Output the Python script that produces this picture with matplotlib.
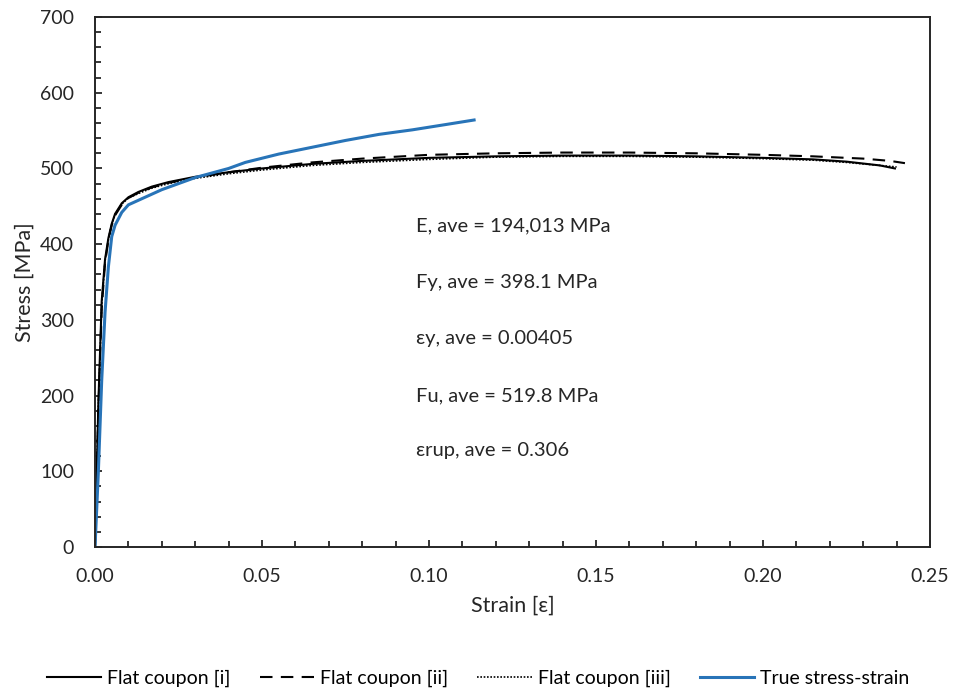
import numpy as np
import matplotlib.pyplot as plt
from matplotlib.ticker import MultipleLocator

plt.rcParams['font.family'] = ['Lato', 'DejaVu Sans']

# flat coupon [i]
strain_i = [0, 0.001, 0.002, 0.003, 0.004, 0.005, 0.006, 0.008, 0.010, 0.013, 0.017,
            0.022, 0.03, 0.04, 0.05, 0.065, 0.08, 0.10, 0.12, 0.14, 0.16, 0.18, 0.20,
            0.215, 0.225, 0.235, 0.2395]
stress_i = [0, 190, 325, 380, 408, 427, 440, 454, 462, 469, 476,
            482, 489, 495, 500, 506, 510, 514, 516, 517, 517, 516, 514,
            512, 509, 504, 500]

# flat coupon [ii]
strain_ii = [0, 0.001, 0.002, 0.003, 0.004, 0.005, 0.006, 0.008, 0.010, 0.013, 0.017,
             0.022, 0.03, 0.04, 0.05, 0.065, 0.08, 0.10, 0.12, 0.14, 0.16, 0.18, 0.20,
             0.215, 0.23, 0.238, 0.2425]
stress_ii = [0, 180, 315, 375, 405, 425, 438, 452, 461, 468, 475,
             481, 488, 495, 501, 508, 513, 518, 520, 521, 521, 520, 518,
             516, 513, 510, 507]

# flat coupon [iii]
strain_iii = [0, 0.001, 0.002, 0.003, 0.004, 0.005, 0.006, 0.008, 0.010, 0.013, 0.017,
              0.022, 0.03, 0.04, 0.05, 0.065, 0.08, 0.10, 0.12, 0.14, 0.16, 0.18, 0.20,
              0.215, 0.225, 0.235, 0.240]
stress_iii = [0, 185, 320, 378, 406, 426, 439, 453, 461, 467, 474,
              480, 487, 493, 498, 504, 508, 512, 515, 516, 516, 515, 513,
              511, 508, 504, 502]

# true stress-strain
strain_t = [0, 0.001, 0.002, 0.003, 0.004, 0.005, 0.006, 0.008, 0.010, 0.015, 0.02,
            0.03, 0.04, 0.045, 0.055, 0.065, 0.075, 0.085, 0.095, 0.105, 0.1135]
stress_t = [0, 100, 220, 310, 370, 410, 425, 442, 452, 462, 472,
            488, 500, 508, 519, 528, 537, 545, 551, 558, 564]

labels = ['Flat coupon [i]', 'Flat coupon [ii]', 'Flat coupon [iii]', 'True stress-strain']

notes = ['E, ave = 194,013 MPa', 'Fy, ave = 398.1 MPa', '\u03b5y, ave = 0.00405',
         'Fu, ave = 519.8 MPa', '\u03b5rup, ave = 0.306']
note_y = [424, 350, 276, 200, 128]

fig = plt.figure(figsize=(9.56, 6.98), dpi=100)
ax = fig.add_axes([0.0994, 0.2163, 0.8734, 0.7593])

ax.plot(strain_i, stress_i, color='black', lw=1.5, label=labels[0])
ax.plot(strain_ii, stress_ii, color='black', lw=1.5, ls=(0, (6, 4)), label=labels[1])
ax.plot(strain_iii, stress_iii, color='black', lw=1.2, ls=(0, (1, 1)), label=labels[2])
ax.plot(strain_t, stress_t, color='#2874b8', lw=2.2, label=labels[3])

for txt, y in zip(notes, note_y):
    ax.text(0.0961, y, txt, fontsize=14.5, va='center', ha='left', color='#262626')

ax.set_xlim(0, 0.25)
ax.set_ylim(0, 700)
ax.xaxis.set_major_locator(MultipleLocator(0.05))
ax.xaxis.set_minor_locator(MultipleLocator(0.01))
ax.yaxis.set_major_locator(MultipleLocator(100))
ax.yaxis.set_minor_locator(MultipleLocator(20))
ax.xaxis.set_major_formatter(lambda v, p: f'{v:.2f}')
ax.tick_params(which='both', direction='in', labelsize=14, colors='#262626', width=1.3)
ax.tick_params(which='major', length=5)
ax.tick_params(which='minor', length=4)
ax.tick_params(axis='x', pad=15)
ax.tick_params(axis='y', pad=15)
for s in ax.spines.values():
    s.set_linewidth(1.4)
    s.set_color('#262626')

ax.set_xlabel('Strain [\u03b5]', fontsize=15.5, color='#262626', labelpad=8)
ax.set_ylabel('Stress [MPa]', fontsize=15.5, color='#262626', labelpad=4)

fig.legend(loc='center', bbox_to_anchor=(0.5, 0.028), ncol=4, frameon=False,
           fontsize=14, handlelength=2.8, handletextpad=0.3, columnspacing=1.5)

fig.savefig('out.png', dpi=100)
